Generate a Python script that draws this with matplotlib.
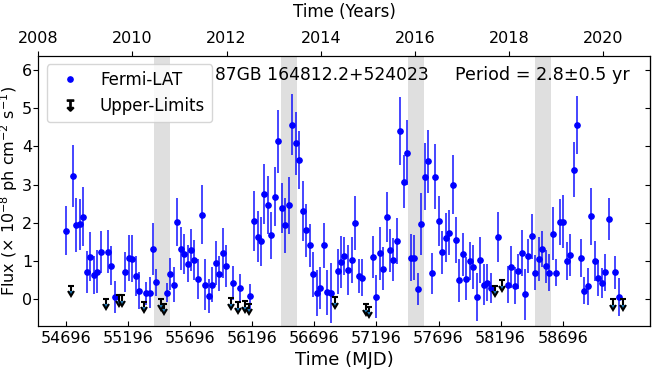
import matplotlib
matplotlib.use("Agg")
import matplotlib.pyplot as plt
from matplotlib.lines import Line2D
import numpy as np

# Fermi-LAT detections (MJD, flux in 1e-8 ph cm^-2 s^-1, 1-sigma error)
det_mjd = [
    54699, 54752, 54779, 54811, 54838, 54868, 54895, 54924, 54951, 54978,
    55034, 55061, 55093, 55174, 55203, 55230, 55259, 55286, 55340, 55372,
    55399, 55426, 55509, 55538, 55565, 55595, 55622, 55648, 55678, 55705,
    55732, 55761, 55790, 55817, 55846, 55873, 55903, 55929, 55959, 55986,
    56042, 56098, 56182, 56211, 56241, 56268, 56294, 56324, 56351, 56380,
    56407, 56436, 56463, 56490, 56520, 56546, 56573, 56603, 56630, 56659,
    56686, 56716, 56742, 56772, 56799, 56828, 56885, 56912, 56938, 56968,
    56997, 57024, 57054, 57080, 57166, 57196, 57223, 57249, 57279, 57306,
    57333, 57362, 57389, 57416, 57445, 57472, 57502, 57528, 57558, 57585,
    57614, 57641, 57671, 57697, 57724, 57754, 57781, 57810, 57837, 57864,
    57893, 57920, 57950, 57977, 58006, 58033, 58062, 58089, 58119, 58172,
    58253, 58280, 58310, 58337, 58366, 58393, 58420, 58449, 58476, 58503,
    58532, 58559, 58589, 58616, 58645, 58672, 58701, 58728, 58758, 58785,
    58814, 58841, 58870, 58897, 58927, 58954, 58983, 59010, 59037, 59064,
    59120, 59150,
]
det_flux = [
    1.79, 3.23, 1.93, 1.95, 2.15, 0.70, 1.10, 0.61, 0.71, 1.23,
    1.23, 0.87, 0.03, 0.70, 1.07, 1.05, 0.60, 0.21, 0.14, 0.16,
    1.31, 0.43, 0.16, 0.65, 0.37, 2.01, 1.31, 1.18, 0.92, 1.28,
    1.01, 0.52, 2.21, 0.37, 0.07, 0.37, 0.94, 0.65, 1.20, 0.85,
    0.41, 0.29, 0.06, 2.05, 1.63, 1.51, 2.75, 2.46, 1.66, 2.68,
    4.14, 2.39, 1.93, 2.45, 4.57, 4.08, 3.64, 2.30, 1.80, 1.40,
    0.64, 0.15, 0.27, 1.40, 0.17, 0.14, 0.72, 0.97, 1.12, 0.75,
    1.01, 1.99, 0.59, 0.55, 1.10, 0.05, 1.19, 0.79, 2.14, 1.27,
    1.02, 1.51, 4.41, 3.07, 3.84, 1.08, 1.08, 0.26, 1.96, 3.21,
    3.61, 0.66, 3.21, 2.05, 1.22, 1.60, 1.73, 3.00, 1.54, 0.48,
    1.16, 0.52, 0.98, 0.83, 0.04, 1.02, 0.37, 0.42, 0.27, 1.62,
    0.37, 0.82, 0.34, 0.72, 1.20, 0.11, 1.12, 1.64, 0.68, 1.04,
    1.30, 0.85, 0.68, 1.71, 0.68, 2.02, 2.02, 0.99, 1.14, 3.39,
    4.57, 1.07, 0.21, 0.32, 2.16, 0.99, 0.54, 0.41, 0.69, 2.10,
    0.69, 0.05,
]
det_err = [
    0.64, 0.81, 0.71, 0.67, 0.78, 0.55, 0.65, 0.50, 0.57, 0.56,
    0.57, 0.50, 0.42, 0.53, 0.61, 0.61, 0.53, 0.48, 0.30, 0.42,
    0.68, 0.35, 0.25, 0.42, 0.46, 0.64, 0.57, 0.53, 0.48, 0.55,
    0.53, 0.53, 0.78, 0.66, 0.44, 0.46, 0.57, 0.46, 0.66, 0.55,
    0.44, 0.35, 0.33, 0.79, 0.68, 0.64, 0.79, 0.77, 0.61, 0.77,
    0.83, 0.66, 0.72, 0.75, 0.80, 0.83, 0.77, 0.79, 0.70, 0.57,
    0.59, 0.61, 0.55, 0.59, 0.59, 0.79, 0.59, 0.68, 0.50, 0.66,
    0.61, 0.70, 0.44, 0.48, 0.55, 0.57, 0.70, 0.57, 0.66, 0.57,
    0.57, 0.61, 0.90, 0.70, 0.85, 0.61, 0.59, 0.42, 0.81, 0.88,
    0.83, 0.53, 0.86, 0.66, 0.57, 0.64, 0.59, 0.77, 0.61, 0.57,
    0.57, 0.57, 0.50, 0.59, 0.64, 0.61, 0.53, 0.48, 0.39, 0.66,
    0.48, 0.55, 0.48, 0.46, 0.61, 0.66, 0.46, 0.59, 0.46, 0.57,
    0.48, 0.44, 0.48, 0.70, 0.35, 0.61, 0.70, 0.50, 0.55, 0.72,
    0.77, 0.50, 0.35, 0.48, 0.74, 0.53, 0.48, 0.39, 0.48, 0.55,
    0.44, 0.50,
]

# upper limits
ul_mjd = [54739, 55018, 55125, 55152, 55329, 55461, 55490, 56029, 56082,
          56139, 56168, 56863, 57115, 57137, 58151, 58208, 59104, 59184]
ul_flux = [0.34, 0.00, 0.09, 0.09, -0.08, -0.02, -0.13, 0.01, -0.10,
           -0.06, -0.13, 0.03, -0.15, -0.21, 0.34, 0.49, -0.02, -0.02]

# predicted high states (shaded)
band_mjd = [55472, 56493, 57517, 58539]
band_halfwidth = 63

source_name = "87GB 164812.2+524023"
period_text = "Period = 2.8\u00b10.5 yr"

fig = plt.figure(figsize=(6.55, 3.7), dpi=100)
ax = fig.add_axes([0.0585, 0.119, 0.9343, 0.7297])

for c in band_mjd:
    ax.axvspan(c - band_halfwidth, c + band_halfwidth, color="gray", alpha=0.25, lw=0, zorder=0)

ax.errorbar(det_mjd, det_flux, yerr=det_err, fmt="none", ecolor="blue", elinewidth=1.2, alpha=0.85)
ax.plot(det_mjd, det_flux, "o", color="blue", ms=3.8)
ax.errorbar(ul_mjd, ul_flux, yerr=0.15, uplims=True, fmt="none", ecolor="black",
            elinewidth=1.5, capsize=2.5, capthick=1.5)

ax.set_xlim(54476, 59400)
ax.set_ylim(-0.72, 6.38)
ax.set_xticks(np.arange(54696, 59000, 500))
ax.set_yticks(np.arange(0, 7, 1))
ax.tick_params(axis="x", direction="in", labelsize=11.5)
ax.tick_params(axis="y", labelsize=11.5, pad=1)
ax.set_xlabel("Time (MJD)", fontsize=13)
ax.set_ylabel(r"Flux ($\times$ 10$^{-8}$ ph cm$^{-2}$ s$^{-1}$)", fontsize=11.5, labelpad=1)

right = ax.secondary_yaxis("right")
right.set_yticks(np.arange(0, 7, 1))
right.tick_params(direction="in", labelright=False)

top = ax.twiny()
top.set_xlim(2008, 2021)
top.set_xticks(np.arange(2008, 2021, 2))
top.tick_params(labelsize=11.5)
top.set_xlabel("Time (Years)", fontsize=12, labelpad=10)

ax.text(0.289, 0.911, source_name, transform=ax.transAxes, fontsize=12.3, va="baseline")
ax.text(0.681, 0.911, period_text, transform=ax.transAxes, fontsize=12.6, va="baseline")

handles = [
    Line2D([], [], ls="none", marker="o", color="blue", ms=3.8),
    Line2D([], [], ls="none", marker="$\u21a7$", color="black", ms=8),
]
ax.legend(handles, ["Fermi-LAT", "Upper-Limits"], loc="upper left", fontsize=12)

fig.savefig("out.png", dpi=100)
